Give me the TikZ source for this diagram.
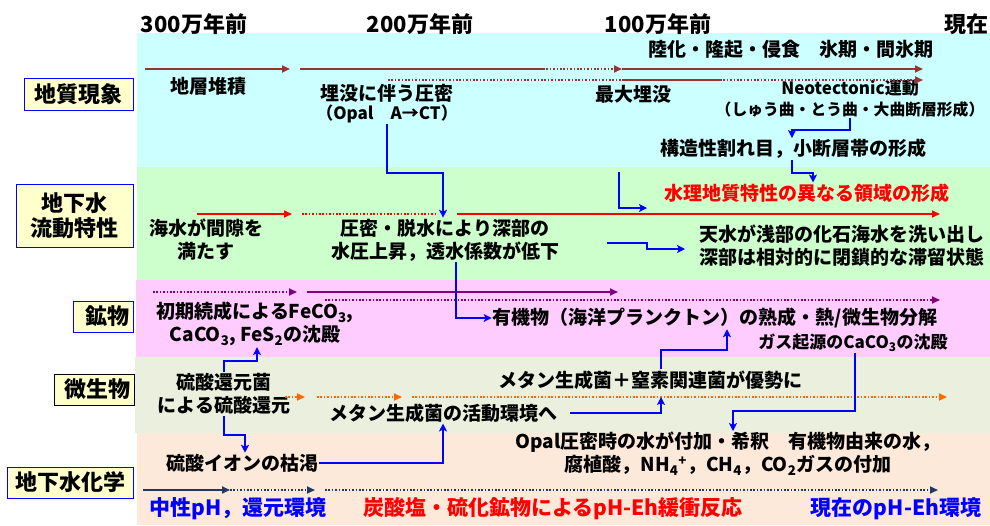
\documentclass[tikz,border=0pt]{standalone}
\usepackage{fontspec}
\setmainfont{Noto Sans CJK JP}
\usetikzlibrary{arrows.meta,positioning}
\definecolor{bandgeo}{HTML}{CCFFFF}
\definecolor{bandflow}{HTML}{CCFFCC}
\definecolor{bandmine}{HTML}{FFCCFF}
\definecolor{bandmicro}{HTML}{EBF0DE}
\definecolor{bandchem}{HTML}{FDE9D9}
\definecolor{labfill}{HTML}{FFFFCC}
\definecolor{tlred}{HTML}{993333}
\definecolor{tlpurple}{HTML}{800080}
\definecolor{tlorange}{HTML}{FF6600}
\definecolor{tlnavy}{HTML}{1F3864}
\newcommand{\sbs}[1]{\textsubscript{#1}}

\begin{document}
\begin{tikzpicture}[x=1pt,y=-1pt,node distance=21pt,
  txt/.style={font=\fontsize{19}{23}\selectfont\bfseries,align=center,inner sep=1pt},
  sml/.style={font=\fontsize{17}{20}\selectfont\bfseries,align=center,inner sep=1pt},
  hdr/.style={font=\fontsize{22}{25}\selectfont\bfseries,inner sep=1pt},
  foot/.style={font=\fontsize{21}{25}\selectfont\bfseries,inner sep=1pt},
  lab/.style={draw=blue,fill=labfill,line width=1pt,font=\fontsize{22}{25}\selectfont\bfseries,align=center,inner sep=2pt},
  tl/.style={line width=1.7pt},
  arr/.style={-{Triangle[length=8pt,width=7pt]}},
  dotline/.style={dash pattern=on 1.6pt off 1.8pt},
  blu/.style={draw=blue,line width=1.4pt,-{Stealth[length=8pt,width=8pt,inset=2pt]}}]
\useasboundingbox (0,0) rectangle (990,525);

\fill[bandgeo] (137,33) rectangle (990,167);
\fill[bandflow] (137,167) rectangle (990,280);
\fill[bandmine] (136,280) rectangle (990,357);
\fill[bandmicro] (135,357) rectangle (990,433);
\fill[bandchem] (137,433) rectangle (990,525);

\node[hdr] (h300) at (194,24) {300万年前};
\node[hdr] (h200) at (420,24) {200万年前};
\node[hdr] (h100) at (658,24) {100万年前};
\node[hdr] (hnow) at (966,24) {現在};

\node[lab,minimum width=109pt,minimum height=32pt] (geo) at (78.5,94) {地質現象};
\node[lab,minimum width=117pt,minimum height=63pt] (flow) at (74.5,215.5) {地下水\\流動特性};
\node[lab,minimum width=60pt,minimum height=31pt,text width=52pt,align=right] (mine) at (103,316.5) {鉱物};
\node[lab,draw=black,minimum width=80pt,minimum height=31pt,text width=72pt,align=right] (micro) at (94,389.5) {微生物};
\node[lab,minimum width=126pt,minimum height=31pt] (chem) at (70,482.5) {地下水化学};

\node[txt] (taiseki) at (208,86) {地層堆積};
\node[txt] (maibotsu) at (387,93) {埋没に伴う圧密};
\node[sml] (opal) [below of=maibotsu] {（Opal\quad A→CT）};
\node[txt] (rikka) at (791,49) {陸化・隆起・侵食　氷期・間氷期};
\node[txt] (saidai) at (633,94) {最大埋没};
\node[sml] (neo) at (850,88) {Neotectonic運動};
\node[sml,font=\fontsize{15.8}{19}\selectfont\bfseries] (shukyoku) [below of=neo] {（しゅう曲・とう曲・大曲断層形成）};
\node[txt] (kozo) at (793,149) {構造性割れ目，小断層帯の形成};
\node[txt,text=red] (suiri) at (807,193) {水理地質特性の異なる領域の形成};

\node[txt] (kaisui) at (206,240) {海水が間隙を\\満たす};
\node[txt] (mitsu) at (445,240) {圧密・脱水により深部の\\水圧上昇，透水係数が低下};
\node[txt] (tensui) at (842,246) {天水が浅部の化石海水を洗い出し\\深部は相対的に閉鎖的な滞留状態};

\node[txt] (shoki) at (255,324) {初期続成によるFeCO\sbs{3},\\CaCO\sbs{3}, FeS\sbs{2}の沈殿};
\node[txt] (yuki) at (715,318) {有機物（海洋プランクトン）の熟成・熱/微生物分解};
\node[sml] (gas) at (853,343) {ガス起源のCaCO\sbs{3}の沈殿};

\node[txt] (ryusan) at (224,394) {硫酸還元菌\\による硫酸還元};
\node[txt] (metan) at (443,413) {メタン生成菌の活動環境へ};
\node[txt] (yusei) at (650,380) {メタン生成菌＋窒素関連菌が優勢に};

\node[txt] (koketsu) at (242,463) {硫酸イオンの枯渇};
\node[txt] (opalw) at (728,454) {Opal圧密時の水が付加・希釈　有機物由来の水，\\腐植酸，NH\sbs{4}\textsuperscript{+}，CH\sbs{4}，CO\sbs{2}ガスの付加};
\node[foot,text=blue] (chusei) at (238,509) {中性pH，還元環境};
\node[foot,text=red] (tansan) at (553,509) {炭酸塩・硫化鉱物によるpH-Eh緩衝反応};
\node[foot,text=blue] (genzai) at (896,509) {現在のpH-Eh環境};

\coordinate (g1) at (145,69);
\coordinate (g2) at (290,69);
\coordinate (g3) at (300,69);
\coordinate (g4) at (543,69);
\coordinate (g5) at (622,69);
\coordinate (g6) at (923,69);
\coordinate (g7) at (388,80);
\coordinate (g8) at (622,80);
\coordinate (g9) at (720,80);
\coordinate (g10) at (923,80);
\draw[tl,arr,draw=tlred] (g1) -- (g2);
\draw[tl,draw=tlred] (g3) -- (g4);
\draw[tl,dotline,arr,draw=tlred] (g4) -- (g5);
\draw[tl,arr,draw=tlred] (g5) -- (g6);
\draw[tl,dotline,draw=tlred] (g7) -- (g8);
\draw[tl,draw=tlred] (g8) -- (g9);
\draw[tl,dotline,arr,draw=tlred] (g9) -- (g10);

\coordinate (w1) at (197,214);
\coordinate (w2) at (292,214);
\coordinate (w3) at (302,214);
\coordinate (w4) at (438,214);
\coordinate (w5) at (457,214);
\coordinate (w6) at (940,214);
\draw[tl,arr,draw=red] (w1) -- (w2);
\draw[tl,dotline,draw=red] (w3) -- (w4);
\draw[tl,arr,draw=red] (w5) -- (w6);

\coordinate (m1) at (153,292);
\coordinate (m2) at (297,292);
\coordinate (m3) at (307,292);
\coordinate (m4) at (618,292);
\coordinate (m5) at (325,300);
\coordinate (m6) at (940,300);
\draw[tl,dotline,arr,draw=tlpurple] (m1) -- (m2);
\draw[tl,arr,draw=tlpurple] (m3) -- (m4);
\draw[tl,dotline,arr,draw=tlpurple] (m5) -- (m6);

\coordinate (b1) at (285,397);
\coordinate (b2) at (305,397);
\coordinate (b3) at (317,397);
\coordinate (b4) at (402,397);
\coordinate (b5) at (412,397);
\coordinate (b6) at (947,397);
\draw[tl,dotline,arr,draw=tlorange] (b1) -- (b2);
\draw[tl,dotline,arr,draw=tlorange] (b3) -- (b4);
\draw[tl,dotline,arr,draw=tlorange] (b5) -- (b6);

\coordinate (c1) at (143,490);
\coordinate (c2) at (230,490);
\coordinate (c3) at (315,490);
\coordinate (c4) at (325,490);
\coordinate (c5) at (938,490);
\draw[tl,arr,draw=tlnavy] (c1) -- (c2);
\draw[tl,dotline,arr,draw=tlnavy] (c2) -- (c3);
\draw[tl,dotline,arr,draw=tlnavy] (c4) -- (c5);

\coordinate (k1) at (619,172);
\coordinate (k2) at (647,208);
\coordinate (k3) at (607,243);
\coordinate (k4) at (685,249);
\coordinate (k5) at (661,397);
\draw[blu] (opal.south) |- (443,173) -- (443,0 |- mitsu.north);
\draw[blu] (shukyoku.south) |- (792,130) -- (792,0 |- kozo.north);
\draw[blu] (792,0 |- kozo.south) |- (813,173) -- (813,0 |- suiri.north);
\draw[blu] (k1) |- (k2);
\draw[blu] (k3) -- (647,243) -- (647,249) -- (k4);
\draw[blu] (456,0 |- mitsu.south) |- (yuki.west);
\draw[blu] (ryusan.north) |- (257,361) -- (257,0 |- shoki.south);
\draw[blu] (ryusan.south) |- (245,435) -- (245,0 |- koketsu.north);
\draw[blu] (koketsu.east) -| (metan.south);
\draw[blu] ([xshift=12pt]metan.east) -| (k5);
\draw[blu] (661,0 |- yusei.north) |- (727,350) -- (727,0 |- yuki.south);
\draw[blu] (855,0 |- gas.south) |- (733,411) -- (733,0 |- opalw.north);
\end{tikzpicture}
\end{document}
